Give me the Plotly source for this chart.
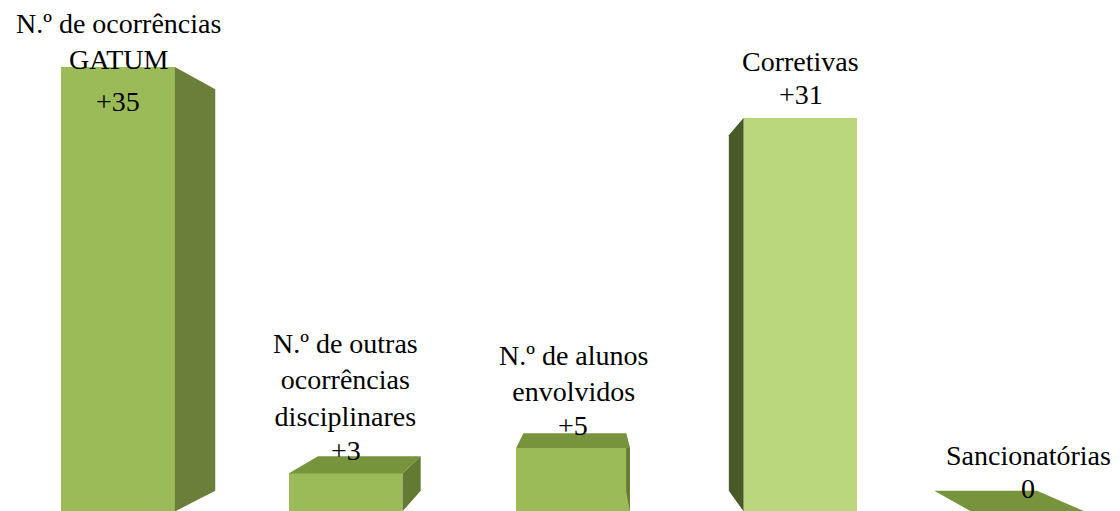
import plotly.graph_objects as go

categories = [
    "N.º de ocorrências<br>GATUM",
    "N.º de outras<br>ocorrências<br>disciplinares",
    "N.º de alunos<br>envolvidos",
    "Corretivas",
    "Sancionatórias",
]
values = [35, 3, 5, 31, 0]
value_labels = ["+35", "+3", "+5", "+31", "0"]

front_colors = ["#9bbb59", "#9bbb59", "#9bbb59", "#bad67c", "#9bbb59"]
side_colors = ["#6b7f3a", "#637a32", "#637a32", "#4a5a26", "#637a32"]
top_color = "#77933c"

BAR_W = 0.5
PX_X = 227.5           # pixels per category
PX_Y = 12.7            # pixels per unit
OFF = 8                # page margin around the figure
VP = (2.08, 16.9)      # vanishing point (data coords)
DEPTH = 0.097
FONT = "Liberation Serif"

fig = go.Figure()


def back(p):
    return (p[0] + DEPTH * (VP[0] - p[0]), p[1] + DEPTH * (VP[1] - p[1]))


def face(pts, color):
    xs = [p[0] for p in pts] + [pts[0][0]]
    ys = [p[1] for p in pts] + [pts[0][1]]
    fig.add_trace(go.Scatter(
        x=xs, y=ys, mode="lines", fill="toself", fillcolor=color,
        line=dict(width=0, color=color), hoverinfo="skip", showlegend=False,
    ))


for i, v in enumerate(values):
    l, r = i - BAR_W / 2, i + BAR_W / 2
    # side face toward the vanishing point
    if i < VP[0]:
        edge = [(r, 0), (r, v)]
    else:
        edge = [(l, 0), (l, v)]
    face(edge + [back(edge[1]), back(edge[0])], side_colors[i])
    # top face when the bar is below eye level
    if v < VP[1]:
        top = [(l, v), (r, v)]
        face(top + [back(top[1]), back(top[0])], top_color)

fig.add_trace(go.Bar(
    x=list(range(len(values))), y=values, width=BAR_W,
    marker=dict(color=front_colors, line=dict(width=0)),
    hoverinfo="skip", showlegend=False,
))

# value label sits above the bar, or inside it when there is no room
label_cap = (511.5 - 80) / PX_Y
for i, v in enumerate(values):
    ly = v + 23 / PX_Y
    if ly > label_cap:
        ly = v - 34 / PX_Y
    cy = max(ly + 34 / PX_Y, v + 8 / PX_Y)
    fig.add_annotation(x=i, y=ly, text=value_labels[i], showarrow=False,
                       yanchor="middle", font=dict(family=FONT, size=28, color="black"))
    fig.add_annotation(x=i, y=cy, text=categories[i], showarrow=False,
                       yanchor="bottom", yshift=-18,
                       font=dict(family=FONT, size=28, color="black"))

fig.update_layout(
    width=1120, height=511,
    margin=dict(l=0, r=0, t=0, b=0),
    paper_bgcolor="white", plot_bgcolor="white",
    xaxis=dict(range=[(OFF - 118) / PX_X, (1120 + OFF - 118) / PX_X],
               visible=False, fixedrange=True),
    yaxis=dict(range=[(511.5 - 511 - OFF) / PX_Y, (511.5 - OFF) / PX_Y],
               visible=False, fixedrange=True),
    bargap=0,
)

fig.write_html("out.html")
